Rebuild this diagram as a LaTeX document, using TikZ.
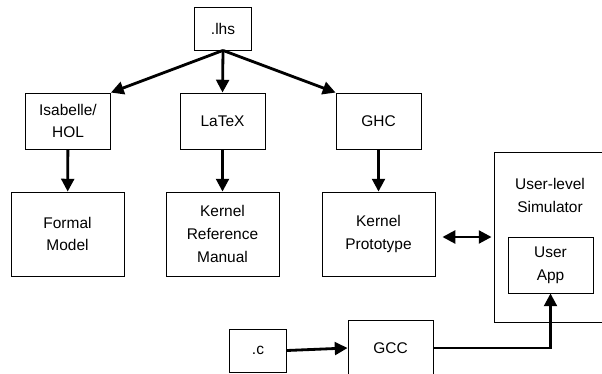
\documentclass[tikz,border=0pt]{standalone}
\usepackage{fontspec}
\setmainfont{Liberation Sans}
\usetikzlibrary{arrows.meta}
\tikzset{
  src/.style={draw,line width=0.6pt,minimum width=1.425cm,minimum height=1.075cm},
  tool/.style={draw,line width=0.6pt,align=center,minimum width=2.125cm,minimum height=1.4cm},
  doc/.style={draw,line width=0.6pt,align=center,minimum width=2.825cm,minimum height=2.1cm},
  flow/.style={line width=2pt,-{Triangle[length=3.2mm,width=3.2mm]}},
  dflow/.style={line width=2pt,{Triangle[length=3.2mm,width=3.2mm]}-{Triangle[length=3.2mm,width=3.2mm]}},
}

\begin{document}
\begin{tikzpicture}[x=0.025cm,y=-0.025cm,font=\fontsize{11}{16.3}\selectfont]
\useasboundingbox (0,0) rectangle (602,373);
% sources
\node[src] (lhs) at (223,28.5) {.lhs};
\node[src] (c) at (258,350.5) {.c};
% tools
\node[tool] (isa) at (68,121) {Isabelle/\\HOL};
\node[tool] (latex) at (222.5,121) {LaTeX};
\node[tool] (ghc) at (378.5,121) {GHC};
\node[tool] (gcc) at (390.5,348) {GCC};
% results
\node[doc] (model) at (67.5,234) {Formal\\Model};
\node[doc] (manual) at (222.5,234) {Kernel\\Reference\\Manual};
\node[doc] (kproto) at (378.5,234) {Kernel\\Prototype};
\node[draw,line width=0.6pt,minimum width=2.9cm,minimum height=4.25cm,
  label={[align=center,anchor=north,yshift=-0.55cm,xshift=-0.05cm]north:User-level\\Simulator}]
  (sim) at (552,237) {};
\node[tool] (app) at (550.5,265) {User\\App};
% arrows
\draw[flow] (lhs.south) -- (isa.north east);
\draw[flow] (lhs.south) -- (latex.north);
\draw[flow] (lhs.south) -- (ghc.north west);
\draw[flow] (isa) -- (model);
\draw[flow] (latex) -- (manual);
\draw[flow] (ghc) -- (kproto);
\draw[dflow,shorten <=0.175cm,shorten >=0.05cm] (kproto.east |- sim.west) -- (sim.west);
\draw[flow] (c.east) -- (gcc.west);
\draw[flow] (gcc.east) -| (app.south);
\end{tikzpicture}
\end{document}
